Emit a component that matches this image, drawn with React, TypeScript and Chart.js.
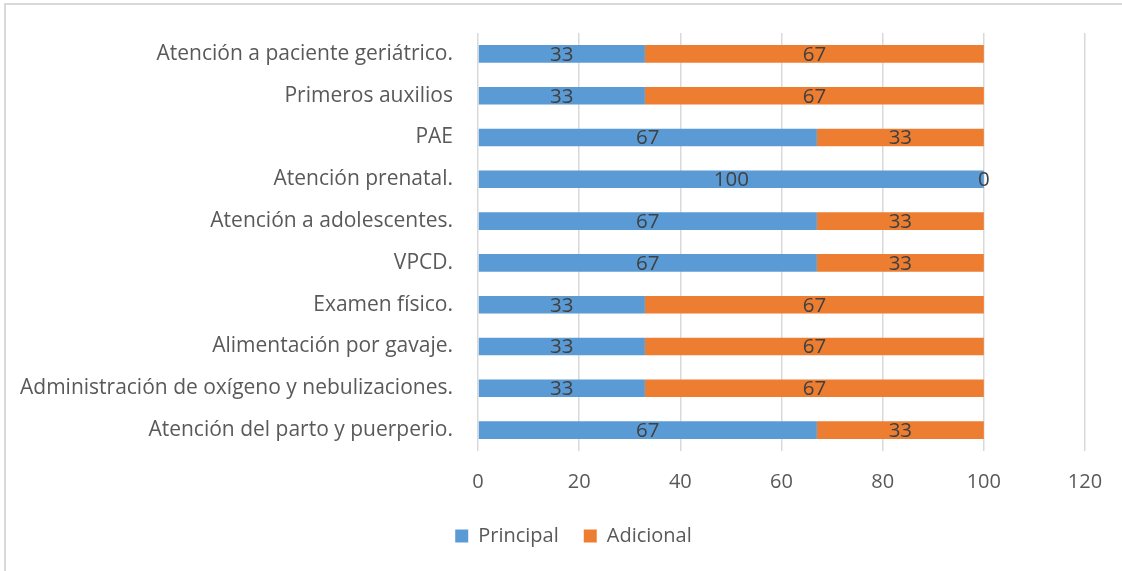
import React, { useEffect, useRef } from "react";
import { Chart, registerables } from "chart.js";

Chart.register(...registerables);

const categories: string[] = [
  "Atención a paciente geriátrico.",
  "Primeros auxilios",
  "PAE",
  "Atención prenatal.",
  "Atención a adolescentes.",
  "VPCD.",
  "Examen físico.",
  "Alimentación por gavaje.",
  "Administración de oxígeno y nebulizaciones.",
  "Atención del parto y puerperio.",
];
const principal: number[] = [33, 33, 67, 100, 67, 67, 33, 33, 33, 67];
const adicional: number[] = [67, 67, 33, 0, 33, 33, 67, 67, 67, 33];
const seriesNames: string[] = ["Principal", "Adicional"];
const axisMin = 0;
const axisMax = 120;
const axisStep = 20;

const FONT = "'Open Sans', sans-serif";
const PAD_LEFT = 62;

const frame = {
  id: "frame",
  beforeDraw(chart: any) {
    const ctx = chart.ctx;
    ctx.save();
    ctx.fillStyle = "#ffffff";
    ctx.fillRect(0, 0, chart.width, chart.height);
    ctx.strokeStyle = "#d9d9d9";
    ctx.lineWidth = 2;
    ctx.strokeRect(5, 4, chart.width + 20, chart.height + 20);
    ctx.restore();
  },
};

const widenLabelArea = {
  id: "widenLabelArea",
  afterLayout(chart: any) {
    const y = chart.scales.y;
    if (y) y.left = 0;
  },
};

const valueLabels = {
  id: "valueLabels",
  afterDatasetsDraw(chart: any) {
    const ctx = chart.ctx;
    ctx.save();
    ctx.font = `20.5px ${FONT}`;
    ctx.fillStyle = "#404040";
    ctx.textAlign = "center";
    ctx.textBaseline = "middle";
    chart.data.datasets.forEach((ds: any, di: number) => {
      const meta = chart.getDatasetMeta(di);
      meta.data.forEach((bar: any, i: number) => {
        const x = (bar.x + bar.base) / 2;
        ctx.fillText(String(ds.data[i]), x, bar.y + 1);
      });
    });
    ctx.restore();
  },
};

export default function App() {
  const ref = useRef<HTMLCanvasElement>(null);
  useEffect(() => {
    if (!ref.current) return;
    const chart = new Chart(ref.current, {
      type: "bar",
      data: {
        labels: categories,
        datasets: [
          {
            label: seriesNames[0],
            data: principal,
            backgroundColor: "#5B9BD5",
            categoryPercentage: 0.84,
            barPercentage: 0.5,
          },
          {
            label: seriesNames[1],
            data: adicional,
            backgroundColor: "#ED7D31",
            categoryPercentage: 0.84,
            barPercentage: 0.5,
          },
        ],
      },
      options: {
        indexAxis: "y",
        responsive: false,
        animation: false,
        layout: { padding: { left: PAD_LEFT, right: 37, top: 33, bottom: 15 } },
        scales: {
          x: {
            stacked: true,
            min: axisMin,
            max: axisMax,
            ticks: {
              stepSize: axisStep,
              color: "#595959",
              font: { family: FONT, size: 20 },
              padding: 19,
            },
            grid: { color: "#d9d9d9", lineWidth: 1.5, drawTicks: false },
            border: { display: false },
            afterFit: (s: any) => {
              s.height = 50;
            },
          },
          y: {
            stacked: true,
            ticks: {
              color: "#595959",
              font: { family: FONT, size: 21 },
              padding: 25,
              autoSkip: false,
            },
            grid: { display: false, drawTicks: false },
            border: { display: false },
            afterFit: (s: any) => {
              s.width = 478 - PAD_LEFT;
              s.paddingTop = 0;
              s.paddingBottom = 0;
            },
          },
        },
        plugins: {
          legend: {
            position: "bottom",
            labels: {
              boxWidth: 13,
              boxHeight: 13,
              color: "#595959",
              font: { family: FONT, size: 20 },
              padding: 25,
            },
          },
          tooltip: { enabled: false },
        },
      },
      plugins: [frame, widenLabelArea, valueLabels],
    });
    return () => chart.destroy();
  }, []);
  return (
    <div style={{ position: "absolute", left: 0, top: 0, width: 1122, height: 571 }}>
      <canvas ref={ref} width={1122} height={571} />
    </div>
  );
}
